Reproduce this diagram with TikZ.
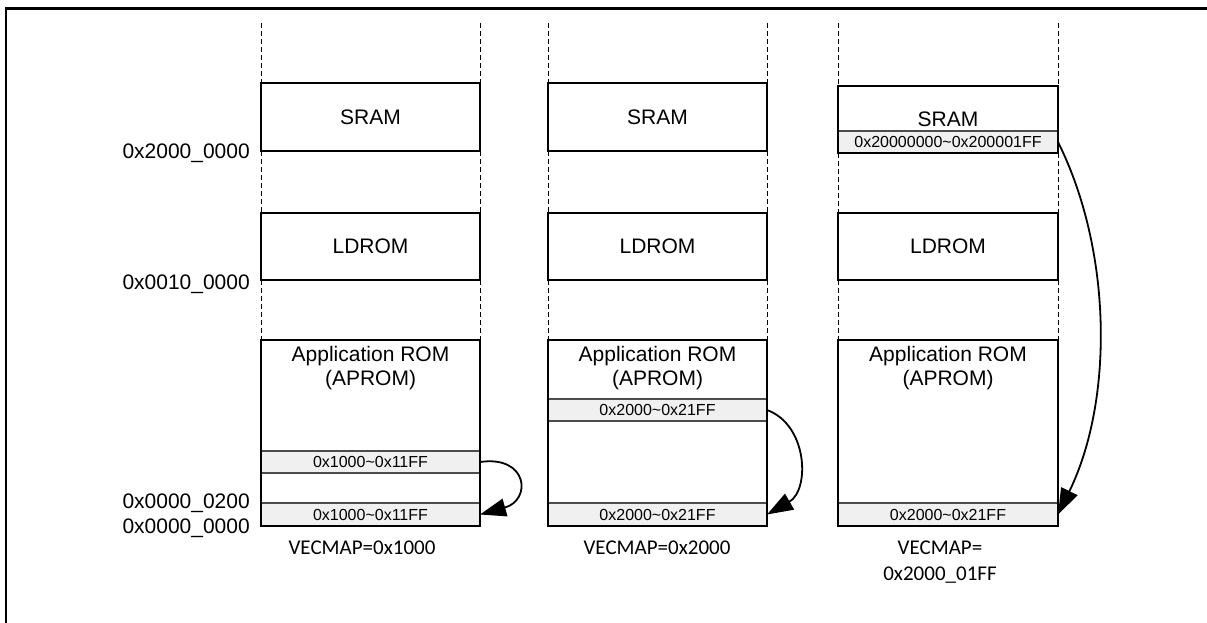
\documentclass[tikz,border=0pt]{standalone}
\usepackage{fontspec}
\setmainfont{Liberation Sans}
\newfontfamily\calibri{Carlito}
\usetikzlibrary{arrows.meta}
\begin{document}
\begin{tikzpicture}[x=1pt,y=-1pt,
  membox/.style={draw=black,line width=1.1pt,anchor=north west,inner sep=0pt,outer sep=0pt,minimum width=#1},
  graybar/.style={fill=gray!12,draw=gray!60!black,line width=1.1pt,anchor=north west,inner sep=0pt,outer sep=0pt,minimum width=#1,minimum height=22pt,font=\fontsize{16}{18}\selectfont},
  bigtxt/.style={font=\fontsize{21}{24}\selectfont},
  addr/.style={font=\fontsize{21}{24}\selectfont,anchor=east,inner sep=0pt},
  vec/.style={font=\calibri\fontsize{21}{26}\selectfont,align=center,inner sep=0pt},
  guide/.style={dash pattern=on 5pt off 3pt,line width=0.9pt},
  jump/.style={line width=1.8pt,-{Triangle[length=26pt,width=18pt]}}
]
\useasboundingbox (0,0) rectangle (1207,622);
\draw[line width=2.6pt] (6,623) -- (6,8.5) -- (1208,8.5);

% column 1
\foreach \xx in {261,480}{
  \draw[guide] (\xx,23) -- (\xx,83);
  \draw[guide] (\xx,151) -- (\xx,213);
  \draw[guide] (\xx,280) -- (\xx,340);
}
\node[graybar=219pt] (g1a) at (261,451) {0x1000\textasciitilde 0x11FF};
\node[graybar=219pt,minimum height=23pt] (g1b) at (261,503) {0x1000\textasciitilde 0x11FF};
\node[membox=219pt,minimum height=68pt,bigtxt] (s1) at (261,83) {SRAM};
\node[membox=219pt,minimum height=67pt,bigtxt] (l1) at (261,213) {LDROM};
\node[membox=219pt,minimum height=186pt] (a1) at (261,340) {};
\node[bigtxt,align=center,anchor=north,inner sep=0pt] (t1) at (370.5,346) {Application ROM\\(APROM)};
\node[vec] (v1) at (362,548) {VECMAP=0x1000};
\draw[jump] (g1a.east) .. controls (528,455) and (532,500) .. (g1b.east);

% column 2
\foreach \xx in {548,767}{
  \draw[guide] (\xx,23) -- (\xx,83);
  \draw[guide] (\xx,151) -- (\xx,213);
  \draw[guide] (\xx,280) -- (\xx,340);
}
\node[graybar=219pt] (g2a) at (548,399) {0x2000\textasciitilde 0x21FF};
\node[graybar=219pt,minimum height=23pt] (g2b) at (548,503) {0x2000\textasciitilde 0x21FF};
\node[membox=219pt,minimum height=68pt,bigtxt] (s2) at (548,83) {SRAM};
\node[membox=219pt,minimum height=67pt,bigtxt] (l2) at (548,213) {LDROM};
\node[membox=219pt,minimum height=186pt] (a2) at (548,340) {};
\node[bigtxt,align=center,anchor=north,inner sep=0pt] (t2) at (657.5,346) {Application ROM\\(APROM)};
\node[vec] (v2) at (657,548) {VECMAP=0x2000};
\draw[jump] (g2a.east) .. controls (808,425) and (810,490) .. (g2b.east);

% column 3
\foreach \xx in {838,1058}{
  \draw[guide] (\xx,23) -- (\xx,86);
  \draw[guide] (\xx,153) -- (\xx,213);
  \draw[guide] (\xx,280) -- (\xx,340);
}
\node[graybar=220pt] (g3a) at (838,131) {0x20000000\textasciitilde 0x200001FF};
\node[graybar=220pt,minimum height=23pt] (g3b) at (838,503) {0x2000\textasciitilde 0x21FF};
\node[membox=220pt,minimum height=67pt] (s3) at (838,86) {};
\node[bigtxt,inner sep=0pt] (st3) at (948,119) {SRAM};
\node[membox=220pt,minimum height=67pt,bigtxt] (l3) at (838,213) {LDROM};
\node[membox=220pt,minimum height=186pt] (a3) at (838,340) {};
\node[bigtxt,align=center,anchor=north,inner sep=0pt] (t3) at (948,346) {Application ROM\\(APROM)};
\node[vec] (v3) at (940,562) {VECMAP=\\0x2000\_01FF};
\draw[jump] (g3a.east) .. controls (1112,250) and (1114,400) .. (g3b.east);

% address labels
\node[addr] (ad1) at (250,153) {0x2000\_0000};
\node[addr] (ad2) at (250,284) {0x0010\_0000};
\node[addr] (ad3) at (250,503) {0x0000\_0200};
\node[addr] (ad4) at (250,528) {0x0000\_0000};
\end{tikzpicture}
\end{document}
